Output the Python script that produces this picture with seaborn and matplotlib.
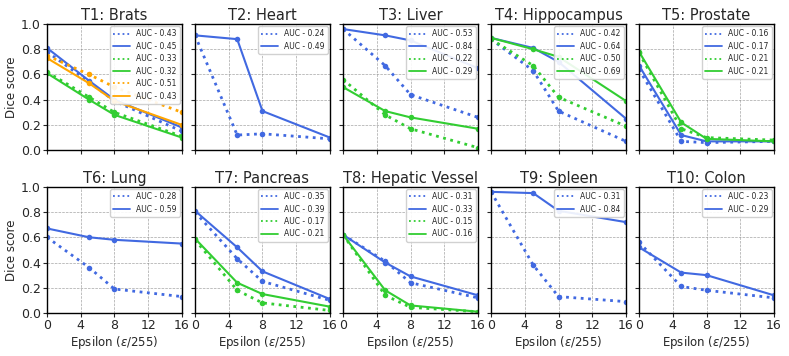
import matplotlib
matplotlib.use("Agg")
import matplotlib.pyplot as plt
import seaborn as sns

sns.set_style("ticks")

# Epsilon values where attacks were evaluated
eps = [0, 5, 8, 16]

titles = ["T1: Brats", "T2: Heart", "T3: Liver", "T4: Hippocampus", "T5: Prostate",
          "T6: Lung", "T7: Pancreas", "T8: Hepatic Vessel", "T9: Spleen", "T10: Colon"]

# Dice scores per task, (dotted, solid) pairs per colour
brats_blue_dot = [0.78, 0.54, 0.39, 0.15]
brats_blue = [0.81, 0.55, 0.40, 0.18]
brats_green_dot = [0.62, 0.42, 0.30, 0.11]
brats_green = [0.61, 0.40, 0.28, 0.10]
brats_orange_dot = [0.75, 0.60, 0.50, 0.30]
brats_orange = [0.73, 0.53, 0.39, 0.20]

heart_blue_dot = [0.91, 0.12, 0.13, 0.09]
heart_blue = [0.91, 0.88, 0.31, 0.10]

liver_blue_dot = [0.96, 0.67, 0.44, 0.26]
liver_blue = [0.96, 0.91, 0.87, 0.65]
liver_green_dot = [0.56, 0.28, 0.17, 0.02]
liver_green = [0.50, 0.31, 0.26, 0.17]

hippo_blue_dot = [0.88, 0.63, 0.31, 0.07]
hippo_blue = [0.89, 0.81, 0.70, 0.25]
hippo_green_dot = [0.88, 0.67, 0.42, 0.19]
hippo_green = [0.89, 0.80, 0.74, 0.39]

prostate_blue_dot = [0.64, 0.07, 0.06, 0.07]
prostate_blue = [0.67, 0.12, 0.07, 0.07]
prostate_green_dot = [0.77, 0.17, 0.10, 0.08]
prostate_green = [0.78, 0.22, 0.09, 0.07]

lung_blue_dot = [0.60, 0.36, 0.19, 0.13]
lung_blue = [0.67, 0.60, 0.58, 0.55]

pancreas_blue_dot = [0.80, 0.43, 0.25, 0.10]
pancreas_blue = [0.81, 0.52, 0.33, 0.11]
pancreas_green_dot = [0.58, 0.18, 0.08, 0.02]
pancreas_green = [0.59, 0.24, 0.15, 0.05]

vessel_blue_dot = [0.62, 0.41, 0.24, 0.12]
vessel_blue = [0.62, 0.40, 0.29, 0.14]
vessel_green_dot = [0.62, 0.14, 0.045, 0.01]
vessel_green = [0.62, 0.18, 0.06, 0.01]

spleen_blue_dot = [0.96, 0.38, 0.13, 0.09]
spleen_blue = [0.96, 0.95, 0.81, 0.72]

colon_blue_dot = [0.56, 0.21, 0.18, 0.12]
colon_blue = [0.52, 0.32, 0.30, 0.14]

blue, green, orange = "royalblue", "limegreen", "orange"

panels = [
    [(brats_blue_dot, blue, ":", "AUC - 0.43"), (brats_blue, blue, "-", "AUC - 0.45"),
     (brats_green_dot, green, ":", "AUC - 0.33"), (brats_green, green, "-", "AUC - 0.32"),
     (brats_orange_dot, orange, ":", "AUC - 0.51"), (brats_orange, orange, "-", "AUC - 0.43")],
    [(heart_blue_dot, blue, ":", "AUC - 0.24"), (heart_blue, blue, "-", "AUC - 0.49")],
    [(liver_blue_dot, blue, ":", "AUC - 0.53"), (liver_blue, blue, "-", "AUC - 0.84"),
     (liver_green_dot, green, ":", "AUC - 0.22"), (liver_green, green, "-", "AUC - 0.29")],
    [(hippo_blue_dot, blue, ":", "AUC - 0.42"), (hippo_blue, blue, "-", "AUC - 0.64"),
     (hippo_green_dot, green, ":", "AUC - 0.50"), (hippo_green, green, "-", "AUC - 0.69")],
    [(prostate_blue_dot, blue, ":", "AUC - 0.16"), (prostate_blue, blue, "-", "AUC - 0.17"),
     (prostate_green_dot, green, ":", "AUC - 0.21"), (prostate_green, green, "-", "AUC - 0.21")],
    [(lung_blue_dot, blue, ":", "AUC - 0.28"), (lung_blue, blue, "-", "AUC - 0.59")],
    [(pancreas_blue_dot, blue, ":", "AUC - 0.35"), (pancreas_blue, blue, "-", "AUC - 0.39"),
     (pancreas_green_dot, green, ":", "AUC - 0.17"), (pancreas_green, green, "-", "AUC - 0.21")],
    [(vessel_blue_dot, blue, ":", "AUC - 0.31"), (vessel_blue, blue, "-", "AUC - 0.33"),
     (vessel_green_dot, green, ":", "AUC - 0.15"), (vessel_green, green, "-", "AUC - 0.16")],
    [(spleen_blue_dot, blue, ":", "AUC - 0.31"), (spleen_blue, blue, "-", "AUC - 0.84")],
    [(colon_blue_dot, blue, ":", "AUC - 0.23"), (colon_blue, blue, "-", "AUC - 0.29")],
]

fig, axes = plt.subplots(2, 5, figsize=(7.89, 3.56), dpi=100, sharex=True, sharey=True)
fig.subplots_adjust(left=47 / 789, right=774 / 789, top=1 - 24 / 356, bottom=1 - 313 / 356,
                    wspace=0.097, hspace=0.29)

for i, ax in enumerate(axes.flat):
    for vals, color, ls, label in panels[i]:
        sns.lineplot(x=eps, y=vals, ax=ax, color=color, linestyle=ls,
                     linewidth=2.0 if ls == ":" else 1.5,
                     marker="o", markersize=4, markeredgewidth=0, label=label)
    ax.set_title(titles[i], fontsize=10.5, pad=3)
    ax.set_xlim(0, 16)
    ax.set_ylim(0, 1)
    ax.set_xticks([0, 4, 8, 12, 16])
    ax.set_yticks([0, 0.2, 0.4, 0.6, 0.8, 1.0])
    ax.grid(True, linestyle="--", color="gray", linewidth=0.5, alpha=0.7)
    ax.tick_params(labelsize=9, length=3, pad=1.5)
    for sp in ax.spines.values():
        sp.set_color("black")
        sp.set_linewidth(1.0)
    leg = ax.legend(loc="upper right", fontsize=5.5, borderaxespad=0.3, framealpha=0.9,
                    labelspacing=0.45, handlelength=2.2)
    for line in leg.get_lines():
        line.set_marker("")
        line.set_linewidth(1.3)
    ax.set_xlabel("")
    ax.set_ylabel("")
    if i % 5 == 0:
        ax.set_ylabel("Dice score", fontsize=8.5, labelpad=2)
    if i >= 5:
        ax.set_xlabel(r"Epsilon ($\varepsilon$/255)", fontsize=8.5, labelpad=1)

fig.savefig("out.png", dpi=100)
